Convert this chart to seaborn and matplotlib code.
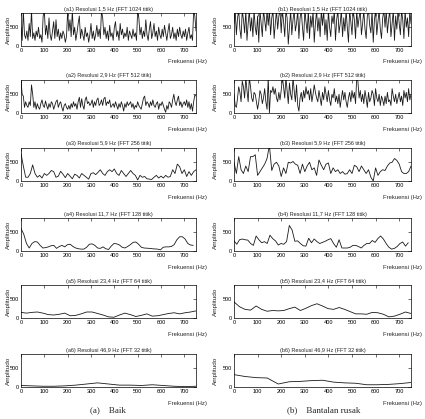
import numpy as np
import pandas as pd
import seaborn as sns
import matplotlib.pyplot as plt

# --- data (amplitude, frequency step per panel) ---
a1 = [500, 150, 950, 300, 200, 400, 150, 600, 250, 950,
      200, 350, 150, 400, 250, 500, 200, 300, 100, 800,
      950, 300, 550, 200, 750, 300, 150, 400, 650, 200,
      700, 250, 450, 150, 350, 200, 400, 300, 100, 250,
      950, 400, 700, 250, 950, 300, 500, 150, 350, 600,
      800, 200, 450, 300, 150, 500, 250, 350, 100, 300,
      600, 200, 400, 150, 300, 550, 250, 450, 200, 950,
      750, 300, 500, 200, 400, 150, 550, 250, 350, 150,
      500, 650, 250, 400, 150, 600, 300, 450, 200, 350,
      250, 500, 150, 400, 300, 200, 450, 250, 350, 150,
      950, 750, 300, 500, 200, 400, 250, 700, 300, 150,
      450, 650, 200, 350, 600, 250, 400, 150, 500, 300,
      200, 450, 250, 550, 350, 150, 400, 600, 200, 300,
      500, 200, 350, 150, 450, 250, 500, 300, 200, 400,
      250, 450, 150, 350, 500, 200, 300, 150, 950, 800,
      400]
b1 = [600, 950, 300, 750, 950, 450, 200, 950, 700, 350,
      950, 150, 600, 950, 400, 750, 250, 950, 500, 300,
      800, 100, 950, 600, 250, 950, 700, 400, 950, 550,
      950, 300, 750, 950, 200, 600, 950, 450, 800, 950,
      350, 950, 650, 250, 950, 750, 50, 500, 950, 300,
      700, 950, 400, 600, 950, 200, 750, 950, 500, 150,
      950, 650, 350, 950, 200, 800, 500, 950, 100, 600,
      950, 400, 750, 250, 950, 550, 950, 300, 700, 150,
      950, 500, 250, 800, 600, 950, 150, 700, 950, 350,
      600, 950, 250, 750, 400, 950, 500, 100, 950, 650,
      300, 950, 700, 200, 950, 500, 750, 950, 300, 600,
      950, 450, 200, 800, 950, 550, 350, 950, 100, 700,
      950, 300, 650, 950, 450, 200, 750, 950, 500, 950,
      350, 700, 950, 250, 600, 950, 150, 800, 450, 950,
      600, 300, 950, 700, 200, 950, 500, 750, 250, 950,
      600]
a2 = [880, 500, 450, 150, 300, 200, 150, 300, 200, 750,
      500, 150, 300, 100, 250, 150, 100, 250, 350, 200,
      150, 320, 200, 100, 250, 150, 300, 250, 100, 200,
      300, 350, 150, 250, 300, 150, 50, 200, 250, 150,
      100, 200, 100, 250, 150, 300, 180, 250, 100, 300,
      420, 150, 380, 200, 100, 350, 430, 250, 300, 200,
      250, 350, 150, 300, 200, 350, 400, 200, 250, 350,
      200, 380, 420, 200, 300, 250, 350, 150, 200, 250,
      150, 300, 200, 100, 250, 150, 300, 200, 50, 250,
      150, 300, 200, 250, 300, 150, 250, 100, 200, 150,
      300, 200, 150, 100, 250, 400, 450, 200, 300, 250,
      150, 300, 200, 350, 200, 150, 250, 300, 100, 250,
      200, 300, 200, 100, 20, 200, 100, 300, 250, 150,
      350, 500, 300, 200, 350, 450, 200, 300, 150, 250,
      300, 200, 350, 150, 300, 100, 250, 50, 300, 480,
      450]
b2 = [500, 200, 150, 400, 700, 550, 300, 850, 700, 400,
      950, 600, 300, 950, 700, 400, 300, 550, 500, 300,
      100, 300, 600, 500, 250, 400, 650, 300, 100, 950,
      0, 600, 550, 700, 500, 650, 400, 300, 550, 350,
      600, 950, 700, 400, 950, 600, 250, 800, 500, 350,
      950, 600, 300, 750, 200, 50, 400, 550, 300, 600,
      400, 700, 500, 600, 350, 650, 300, 500, 750, 550,
      400, 300, 600, 400, 200, 550, 350, 700, 500, 300,
      600, 350, 200, 500, 400, 650, 300, 450, 250, 500,
      150, 400, 600, 350, 550, 300, 150, 400, 550, 300,
      600, 400, 550, 250, 950, 850, 400, 600, 300, 500,
      250, 600, 400, 150, 550, 300, 400, 600, 500, 200,
      650, 400, 300, 500, 200, 450, 350, 200, 450, 250,
      550, 300, 350, 200, 650, 450, 300, 500, 250, 400,
      550, 300, 450, 200, 600, 400, 550, 300, 650, 350,
      500]
a3 = [730, 400, 100, 100, 200, 430, 200, 100, 150, 80,
      200, 150, 200, 280, 250, 100, 130, 260, 180, 90,
      200, 130, 60, 180, 150, 80, 200, 150, 100, 50,
      200, 220, 170, 230, 300, 200, 150, 250, 300, 250,
      320, 200, 150, 280, 200, 120, 200, 280, 200, 150,
      30, 150, 100, 120, 60, 50, 40, 100, 150, 80,
      130, 80, 150, 100, 120, 300, 200, 450, 380, 200,
      300, 120, 250, 150, 250, 300]
b3 = [500, 200, 650, 300, 200, 400, 250, 650, 650, 700,
      150, 250, 350, 450, 600, 950, 280, 450, 500, 400,
      120, 350, 200, 500, 480, 520, 450, 420, 200, 450,
      250, 400, 500, 300, 350, 150, 560, 420, 300, 450,
      480, 200, 350, 250, 300, 200, 250, 180, 200, 300,
      200, 420, 380, 250, 400, 300, 200, 300, 100, 0,
      350, 150, 250, 300, 280, 400, 480, 500, 600, 550,
      450, 250, 200, 200, 250, 400]
a4 = [600, 450, 200, 80, 200, 250, 240, 150, 80, 90,
      110, 140, 150, 70, 120, 150, 110, 170, 180, 120,
      80, 60, 50, 50, 100, 180, 190, 150, 80, 70,
      110, 60, 40, 130, 200, 190, 160, 100, 80, 120,
      170, 230, 240, 180, 100, 80, 75, 70, 60, 55,
      50, 30, 100, 110, 110, 120, 170, 300, 380, 380,
      320, 200, 160, 150]
b4 = [270, 180, 300, 320, 300, 290, 200, 150, 400, 300,
      220, 250, 200, 420, 330, 270, 160, 200, 180, 250,
      680, 560, 260, 270, 200, 140, 130, 340, 220, 320,
      250, 200, 230, 260, 300, 330, 200, 100, 300, 80,
      80, 80, 100, 150, 150, 120, 80, 150, 200, 200,
      280, 230, 330, 400, 320, 200, 100, 50, 70, 120,
      200, 240, 130, 220]
a5 = [150, 130, 150, 160, 130, 90, 80, 100, 130, 60,
      70, 110, 160, 160, 120, 80, 30, 20, 80, 130,
      90, 40, 70, 110, 50, 60, 90, 120, 140, 110,
      140, 160, 190]
b5 = [430, 300, 230, 210, 320, 230, 180, 200, 190, 200,
      250, 290, 200, 260, 330, 380, 320, 250, 230, 280,
      230, 170, 110, 110, 100, 150, 140, 100, 30, 50,
      100, 160, 120]
a6 = [40, 30, 20, 20, 30, 50, 80, 110, 80, 50, 50, 40, 60, 40, 20, 10, 20]
b6 = [330, 280, 250, 240, 80, 140, 150, 170, 180, 130, 110, 100, 60, 60, 70, 90, 120]

panels = [
    ("(a1) Resolusi 1,5 Hz (FFT 1024 titik)", a1, 5.0),
    ("(b1) Resolusi 1,5 Hz (FFT 1024 titik)", b1, 5.0),
    ("(a2) Resolusi 2,9 Hz (FFT 512 titik)", a2, 5.0),
    ("(b2) Resolusi 2,9 Hz (FFT 512 titik)", b2, 5.0),
    ("(a3) Resolusi 5,9 Hz (FFT 256 titik)", a3, 10.0),
    ("(b3) Resolusi 5,9 Hz (FFT 256 titik)", b3, 10.0),
    ("(a4) Resolusi 11,7 Hz (FFT 128 titik)", a4, 11.72),
    ("(b4) Resolusi 11,7 Hz (FFT 128 titik)", b4, 11.72),
    ("(a5) Resolusi 23,4 Hz (FFT 64 titik)", a5, 23.44),
    ("(b5) Resolusi 23,4 Hz (FFT 64 titik)", b5, 23.44),
    ("(a6) Resolusi 46,9 Hz (FFT 32 titik)", a6, 46.875),
    ("(b6) Resolusi 46,9 Hz (FFT 32 titik)", b6, 46.875),
]
captions = ["(a)    Baik", "(b)    Bantalan rusak"]

sns.set_style("white")
plt.rcParams['font.family'] = ['Liberation Sans Narrow', 'Liberation Sans', 'DejaVu Sans']

W, H = 425, 419
fig = plt.figure(figsize=(W / 100, H / 100), dpi=100)

row_tops = [13, 80, 148, 218, 285, 354]
col_x = [(21, 196), (234, 411)]
ylab_x = [8, 215]
ax_h = 33

for i, (title, amp, step) in enumerate(panels):
    r, c = divmod(i, 2)
    x0, x1 = col_x[c]
    top = row_tops[r]
    ax = fig.add_axes([x0 / W, 1 - (top + ax_h) / H, (x1 - x0) / W, ax_h / H])
    df = pd.DataFrame({"f": np.arange(len(amp)) * step, "amp": amp})
    sns.lineplot(data=df, x="f", y="amp", ax=ax, color="#1a1a1a", linewidth=0.6)
    ax.set_xlim(0, 750)
    ax.set_ylim(0, 880)
    ax.set_xticks(range(0, 701, 100))
    ax.set_yticks([0, 500])
    ax.tick_params(direction="in", length=2, width=0.4, labelsize=4.0, pad=1.5,
                   top=True, right=True, colors="black")
    for s in ax.spines.values():
        s.set_linewidth(0.5)
        s.set_color("black")
    ax.set_xlabel("")
    ax.set_ylabel("")
    ax.set_title(title, fontsize=4.0, pad=1.8)
    # axis labels placed like the original (label sits below right end)
    fig.text((x1 + 11) / W, 1 - (top + ax_h + 16) / H, "Frekuensi (Hz)",
             ha="right", va="center", fontsize=4.2)
    fig.text(ylab_x[c] / W, 1 - (top + ax_h / 2) / H, "Amplitudo",
             rotation=90, ha="center", va="center", fontsize=4.6)

for c, cap in enumerate(captions):
    cx = [108, 324][c]
    fig.text(cx / W, 1 - 410 / H, cap, ha="center", va="center",
             fontsize=6.5, family=["Liberation Serif", "DejaVu Serif"])

fig.savefig("out.png", dpi=100)
